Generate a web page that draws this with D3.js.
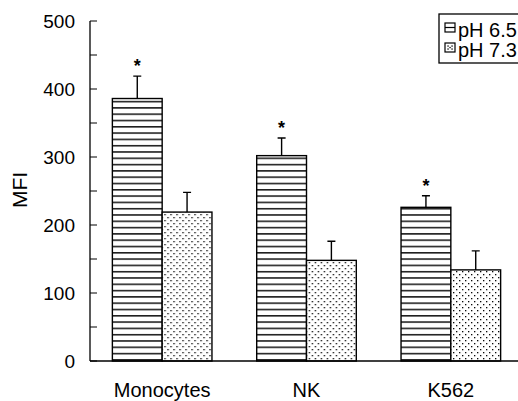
<!DOCTYPE html>
<html>
<head>
<meta charset="utf-8">
<script src="https://cdn.jsdelivr.net/npm/d3@7"></script>
<style>
  body { margin: 0; background: #fff; }
  svg { display: block; font-family: "Liberation Sans", Arial, sans-serif; }
</style>
</head>
<body>
<svg id="chart" width="518" height="401"></svg>
<script>
const categories = ["Monocytes", "NK", "K562"];
const seriesNames = ["pH 6.5", "pH 7.3"];
const ph65 = [386, 302, 226];
const ph73 = [219, 148, 134];
const err65 = [33, 26, 17];
const err73 = [29, 28, 28];
const significant = [true, true, true];
const yTicks = [0, 100, 200, 300, 400, 500];

const svg = d3.select("#chart");
const plotBottom = 361;

const y = d3.scaleLinear().domain([0, 500]).range([plotBottom, 21]);
const x0 = d3.scaleBand().domain(categories).range([90, 523]).paddingInner(0.31).paddingOuter(0.155);
const x1 = d3.scaleBand().domain(seriesNames).range([0, x0.bandwidth()]);

// fill patterns
const defs = svg.append("defs");
const pLines = defs.append("pattern").attr("id", "hlines")
  .attr("patternUnits", "userSpaceOnUse").attr("width", 8).attr("height", 6.3);
pLines.append("rect").attr("width", 8).attr("height", 6.3).attr("fill", "#fff");
pLines.append("line").attr("x1", 0).attr("x2", 8).attr("y1", 0.8).attr("y2", 0.8)
  .attr("stroke", "#000").attr("stroke-width", 1.4);

const pDots = defs.append("pattern").attr("id", "dots")
  .attr("patternUnits", "userSpaceOnUse").attr("width", 6).attr("height", 6);
pDots.append("rect").attr("width", 6).attr("height", 6).attr("fill", "#fff");
pDots.append("rect").attr("x", 1).attr("y", 1).attr("width", 1.3).attr("height", 1.3).attr("fill", "#000");
pDots.append("rect").attr("x", 4).attr("y", 4).attr("width", 1.3).attr("height", 1.3).attr("fill", "#000");

const fills = { "pH 6.5": "url(#hlines)", "pH 7.3": "url(#dots)" };

const rows = categories.map((c, i) => ({
  cat: c,
  sig: significant[i],
  bars: [
    { s: "pH 6.5", v: ph65[i], e: err65[i] },
    { s: "pH 7.3", v: ph73[i], e: err73[i] }
  ]
}));

// y axis
svg.append("line").attr("x1", 90).attr("x2", 90)
  .attr("y1", y(500)).attr("y2", plotBottom).attr("stroke", "#000").attr("stroke-width", 1.3);
svg.selectAll("line.tick").data(d3.range(0, 501, 50)).join("line").attr("class", "tick")
  .attr("x1", 90).attr("x2", 97)
  .attr("y1", d => y(d)).attr("y2", d => y(d))
  .attr("stroke", "#000").attr("stroke-width", 1);
svg.selectAll("text.ylab").data(yTicks).join("text").attr("class", "ylab")
  .attr("x", 75).attr("y", d => y(d)).attr("dy", "0.36em")
  .attr("text-anchor", "end").attr("font-size", 19).text(d => d);

svg.append("text").attr("transform", `translate(27,190) rotate(-90)`)
  .attr("text-anchor", "middle").attr("font-size", 21).text("MFI");

// bars
const g = svg.selectAll("g.grp").data(rows).join("g").attr("class", "grp")
  .attr("transform", d => `translate(${x0(d.cat)},0)`);

g.selectAll("rect").data(d => d.bars).join("rect")
  .attr("x", d => x1(d.s)).attr("width", x1.bandwidth())
  .attr("y", d => y(d.v)).attr("height", d => plotBottom - y(d.v))
  .attr("fill", d => fills[d.s]).attr("stroke", "#000").attr("stroke-width", 1.4);

// error bars (upper only)
g.selectAll("path.err").data(d => d.bars).join("path").attr("class", "err")
  .attr("d", d => {
    const cx = x1(d.s) + x1.bandwidth() / 2;
    return `M${cx},${y(d.v)}V${y(d.v + d.e)}M${cx - 4},${y(d.v + d.e)}H${cx + 4}`;
  })
  .attr("fill", "none").attr("stroke", "#000").attr("stroke-width", 1.4);

g.filter(d => d.sig).append("text")
  .attr("x", x1("pH 6.5") + x1.bandwidth() / 2)
  .attr("y", d => y(d.bars[0].v + d.bars[0].e) - 4)
  .attr("text-anchor", "middle").attr("font-size", 18).attr("font-weight", "bold").text("*");

// x axis
svg.append("line").attr("x1", 90).attr("x2", 518)
  .attr("y1", plotBottom).attr("y2", plotBottom).attr("stroke", "#000").attr("stroke-width", 1.3);
svg.selectAll("text.xlab").data(categories).join("text").attr("class", "xlab")
  .attr("x", d => x0(d) + x0.bandwidth() / 2).attr("y", 397)
  .attr("text-anchor", "middle").attr("font-size", 20).text(d => d);

// legend
const leg = svg.append("g");
leg.append("rect").attr("x", 439).attr("y", 14).attr("width", 84).attr("height", 49)
  .attr("fill", "#fff").attr("stroke", "#000").attr("stroke-width", 1.3);
seriesNames.forEach((s, i) => {
  const yy = 23 + i * 20;
  leg.append("rect").attr("x", 445).attr("y", yy).attr("width", 10).attr("height", 9)
    .attr("fill", "#fff").attr("stroke", "#000").attr("stroke-width", 1.2);
  if (i === 0) {
    leg.append("line").attr("x1", 445).attr("x2", 455).attr("y1", yy + 4.5).attr("y2", yy + 4.5)
      .attr("stroke", "#000").attr("stroke-width", 1.2);
  } else {
    [[448, yy + 3], [452, yy + 3], [450, yy + 4.5], [448, yy + 6], [452, yy + 6]].forEach(p => {
      leg.append("rect").attr("x", p[0] - 0.6).attr("y", p[1] - 0.6)
        .attr("width", 1.3).attr("height", 1.3).attr("fill", "#000");
    });
  }
  leg.append("text").attr("x", 458).attr("y", yy + 14)
    .attr("font-size", 20).text(s);
});
</script>
</body>
</html>
